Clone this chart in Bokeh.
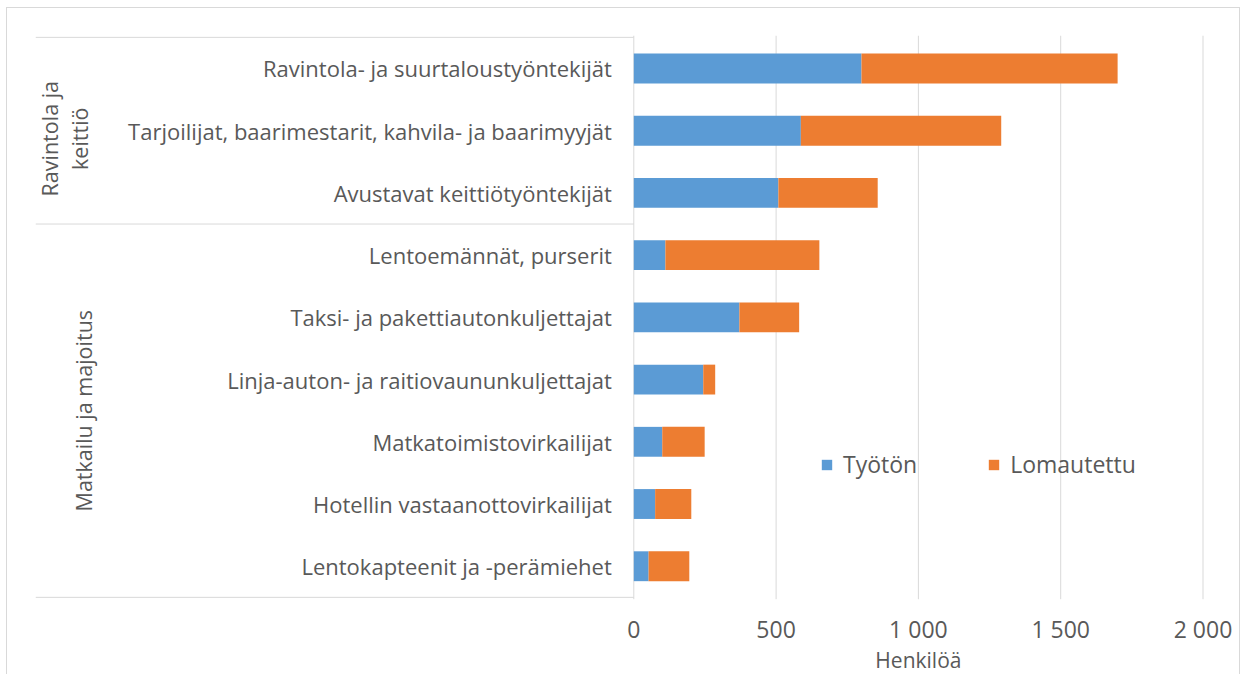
from bokeh.plotting import figure
from bokeh.models import Range1d, FixedTicker, Legend, LegendItem, ColumnDataSource
from bokeh.core.properties import value
from bokeh.embed import file_html
from bokeh.resources import INLINE

# ---------------- data ----------------
groups = ["Ravintola ja\nkeittiö", "Matkailu ja majoitus"]
group_sizes = [3, 6]
categories = [
    "Ravintola- ja suurtaloustyöntekijät",
    "Tarjoilijat, baarimestarit, kahvila- ja baarimyyjät",
    "Avustavat keittiötyöntekijät",
    "Lentoemännät, purserit",
    "Taksi- ja pakettiautonkuljettajat",
    "Linja-auton- ja raitiovaununkuljettajat",
    "Matkatoimistovirkailijat",
    "Hotellin vastaanottovirkailijat",
    "Lentokapteenit ja -perämiehet",
]
tyoton = [800, 587, 508, 111, 371, 244, 100, 75, 52]
lomautettu = [900, 704, 349, 541, 210, 42, 149, 127, 143]
series = ["Työtön", "Lomautettu"]
tick_values = [0, 500, 1000, 1500, 2000]
tick_labels = ["0", "500", "1 000", "1 500", "2 000"]
x_title = "Henkilöä"

# ---------------- style ----------------
BLUE = "#5B9BD5"
ORANGE = "#ED7D31"
TEXT = "#595959"
GRID = "#D9D9D9"
FONT = "Open Sans"

# page-pixel geometry
ORG_X, ORG_Y = 7, 8          # canvas origin on the page
W, H = 1234, 667
ZERO_PX = 633.3
PX_PER_UNIT = (1202.5 - 633.3) / 2000.0
FRAME_L, FRAME_R = 35, 1239
MB_TOP = 27
FRAME_T = ORG_Y + MB_TOP
FRAME_B = ORG_Y + H
n = len(categories)
Y_PAD = 0.03
ROW_PX = 62.22


def px_to_x(px):
    return (px - ZERO_PX) / PX_PER_UNIT


def py_to_y(py):
    return -0.5 - Y_PAD + (py - FRAME_T) / ROW_PX


ys = list(range(n))
y_plot_bottom = n - 0.5 + Y_PAD

p = figure(
    width=W, height=H, output_backend="svg", toolbar_location=None,
    x_range=Range1d(px_to_x(FRAME_L), px_to_x(FRAME_R)),
    y_range=Range1d(py_to_y(FRAME_B), -0.5 - Y_PAD),
    min_border_left=FRAME_L - ORG_X, min_border_right=ORG_X + W - FRAME_R,
    min_border_top=MB_TOP, min_border_bottom=0,
)
p.styles = {"border-top": "1px solid #D9D9D9", "border-left": "1px solid #D9D9D9",
            "border-right": "1px solid #D9D9D9",
            "margin-left": f"{ORG_X - 1}px", "margin-top": f"{ORG_Y - 1}px"}
p.outline_line_color = None
p.background_fill_color = "white"
p.border_fill_color = "white"

# grid / axes
p.ygrid.visible = False
p.xgrid.visible = False
p.yaxis.visible = False
p.segment(x0=tick_values, y0=[-0.5 - Y_PAD] * len(tick_values),
          x1=tick_values, y1=[y_plot_bottom] * len(tick_values),
          line_color=GRID, line_width=1)
p.xaxis.fixed_location = y_plot_bottom
p.xaxis.ticker = FixedTicker(ticks=tick_values)
p.xaxis.major_label_overrides = {v: l for v, l in zip(tick_values, tick_labels)}
p.xaxis.axis_line_color = None
p.xaxis.major_tick_line_color = None
p.xaxis.minor_tick_line_color = None
p.xaxis.major_label_standoff = 8
p.xaxis.major_label_text_font = FONT
p.xaxis.major_label_text_font_size = "23px"
p.xaxis.major_label_text_color = TEXT

# x axis title, centred under the value scale
p.text(x=[(tick_values[0] + tick_values[-1]) / 2], y=[py_to_y(659)], text=[x_title],
       text_align="center", text_baseline="middle",
       text_font=value(FONT), text_font_size="21px", text_color=TEXT)

# bars
src = ColumnDataSource(dict(y=ys, tyoton=tyoton, lomautettu=lomautettu))
rs = p.hbar_stack(["tyoton", "lomautettu"], y="y", height=0.48,
                  color=[BLUE, ORANGE], line_color=None, source=src)

# category labels
p.text(x=[0] * n, y=ys, text=categories, x_offset=-22,
       text_align="right", text_baseline="middle",
       text_font=value(FONT), text_font_size="22px", text_color=TEXT)

# group separators and group labels
bounds = [-0.5]
for s in group_sizes:
    bounds.append(bounds[-1] + s)
p.segment(x0=[px_to_x(FRAME_L)] * len(bounds), y0=bounds,
          x1=[0] * len(bounds), y1=bounds, line_color=GRID, line_width=1)
centers = [(bounds[i] + bounds[i + 1]) / 2 for i in range(len(group_sizes))]
gx_px = [64, 83]
gy_off = [8, 0]
for i in range(len(groups)):
    p.text(x=[px_to_x(gx_px[i])], y=[centers[i]], text=[groups[i]], angle=1.5707963,
           y_offset=gy_off[i],
           text_align="center", text_baseline="middle", text_line_height=1.05,
           text_font=value(FONT), text_font_size="21.5px", text_color=TEXT)

# legend
legend = Legend(items=[LegendItem(label=series[i], renderers=[rs[i]]) for i in range(2)],
                orientation="horizontal",
                location=(820 - FRAME_L, FRAME_B - 480),
                background_fill_alpha=0, border_line_color=None,
                label_text_font=FONT, label_text_font_size="23px", label_text_color=TEXT,
                glyph_width=13, glyph_height=13, label_standoff=10, spacing=70,
                padding=0, margin=0)
p.add_layout(legend)

open("out.html", "w").write(file_html(p, INLINE))
